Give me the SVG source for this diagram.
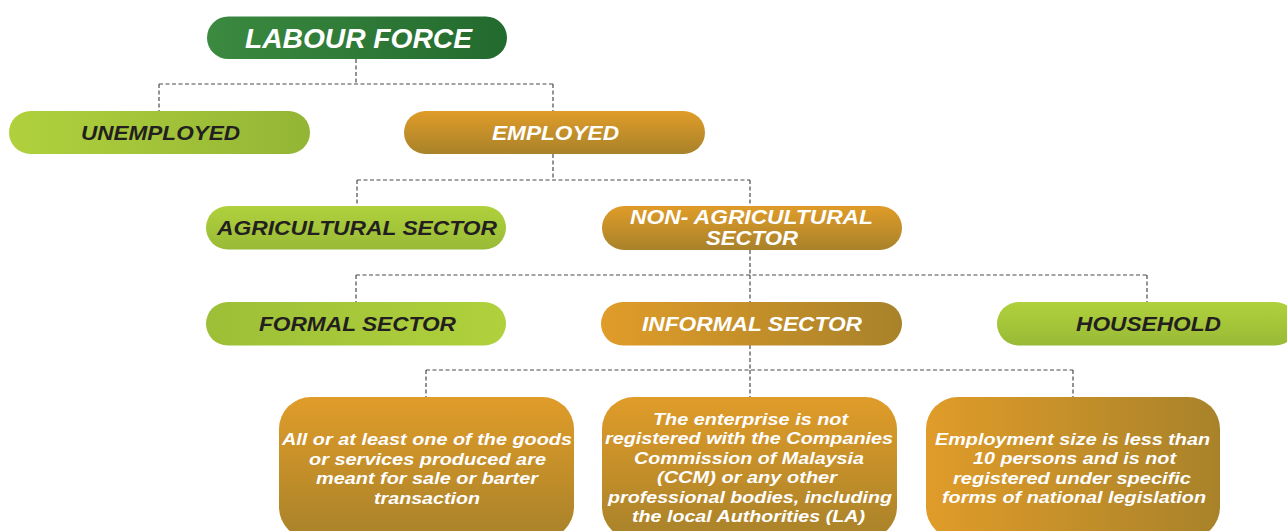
<svg xmlns="http://www.w3.org/2000/svg" width="1287" height="531" viewBox="0 0 1287 531">
<defs>
<linearGradient id="gDark" x1="0" y1="0" x2="1" y2="0"><stop offset="0" stop-color="#3b8a40"/><stop offset="1" stop-color="#226a2e"/></linearGradient>
<linearGradient id="gLimeH" x1="0" y1="0" x2="1" y2="0"><stop offset="0" stop-color="#b0d13c"/><stop offset="1" stop-color="#93b535"/></linearGradient>
<linearGradient id="gLimeHR" x1="0" y1="0" x2="1" y2="0"><stop offset="0" stop-color="#9dbf37"/><stop offset="1" stop-color="#b0d13c"/></linearGradient>
<linearGradient id="gLimeV" x1="0" y1="0" x2="0" y2="1"><stop offset="0" stop-color="#b0d13c"/><stop offset="1" stop-color="#98ba36"/></linearGradient>
<linearGradient id="gOrV" x1="0" y1="0" x2="0" y2="1"><stop offset="0" stop-color="#e09c29"/><stop offset="1" stop-color="#a8822a"/></linearGradient>
<linearGradient id="gOrH" x1="0" y1="0" x2="1" y2="0"><stop offset="0" stop-color="#e09c29"/><stop offset="1" stop-color="#a8822a"/></linearGradient>
</defs>
<style>
text{font-family:"Liberation Sans",Arial,sans-serif;font-weight:bold;font-style:italic;text-anchor:middle}
.w{fill:#ffffff}
.d{fill:#231f20}
.n{font-size:20.5px}
.t{font-size:28px}
.b{font-size:17.2px}
.c{fill:none;stroke:#4a4a4a;stroke-width:1.2;stroke-dasharray:4 2.5}
</style>
<g id="connectors">
<path class="c" d="M356 59V84M159 84H553M159 84V111M553 84V111"/>
<path class="c" d="M553 154V180M357 180H750M357 180V206M750 180V206"/>
<path class="c" d="M750 250V275M356 275H1147M356 275V302M750 275V302M1147 275V302"/>
<path class="c" d="M750 345V370M426 370H1073M426 370V397M750 370V397M1073 370V397"/>
</g>
<g id="labour-force"><rect x="207" y="16.5" width="300" height="42.5" rx="21.25" fill="url(#gDark)"/><text class="w t" x="358.5" y="47.5" textLength="227" lengthAdjust="spacingAndGlyphs">LABOUR FORCE</text></g>
<g id="unemployed"><rect x="9" y="111" width="301" height="43" rx="21.5" fill="url(#gLimeH)"/><text class="d n" x="160.5" y="139.5" textLength="159" lengthAdjust="spacingAndGlyphs">UNEMPLOYED</text></g>
<g id="employed"><rect x="404" y="111" width="301" height="43" rx="21.5" fill="url(#gOrV)"/><text class="w n" x="555.5" y="139.5" textLength="127" lengthAdjust="spacingAndGlyphs">EMPLOYED</text></g>
<g id="agricultural"><rect x="206" y="206" width="300" height="43.5" rx="21.75" fill="url(#gLimeV)"/><text class="d n" x="357" y="234.5" textLength="280" lengthAdjust="spacingAndGlyphs">AGRICULTURAL SECTOR</text></g>
<g id="non-agricultural"><rect x="602" y="206" width="300" height="44" rx="22" fill="url(#gOrV)"/><text class="w n" x="751.5" y="224" textLength="243" lengthAdjust="spacingAndGlyphs">NON- AGRICULTURAL</text><text class="w n" x="752" y="244.5" textLength="92" lengthAdjust="spacingAndGlyphs">SECTOR</text></g>
<g id="formal"><rect x="206" y="302" width="300" height="43.5" rx="21.75" fill="url(#gLimeHR)"/><text class="d n" x="357.5" y="330.5" textLength="197" lengthAdjust="spacingAndGlyphs">FORMAL SECTOR</text></g>
<g id="informal"><rect x="601" y="302" width="301" height="43.5" rx="21.75" fill="url(#gOrH)"/><text class="w n" x="752" y="330.5" textLength="220" lengthAdjust="spacingAndGlyphs">INFORMAL SECTOR</text></g>
<g id="household"><rect x="997" y="302" width="300" height="43.5" rx="21.75" fill="url(#gLimeV)"/><text class="d n" x="1148.5" y="330.5" textLength="145" lengthAdjust="spacingAndGlyphs">HOUSEHOLD</text></g>
<g id="criterion-1"><rect x="279" y="397" width="295" height="142" rx="32" fill="url(#gOrV)"/>
<text class="w b" x="427" y="445" textLength="290" lengthAdjust="spacingAndGlyphs">All or at least one of the goods</text>
<text class="w b" x="427.5" y="464.5" textLength="237" lengthAdjust="spacingAndGlyphs">or services produced are</text>
<text class="w b" x="427" y="484" textLength="222" lengthAdjust="spacingAndGlyphs">meant for sale or barter</text>
<text class="w b" x="427" y="503.5" textLength="106" lengthAdjust="spacingAndGlyphs">transaction</text></g>
<g id="criterion-2"><rect x="602" y="397" width="295" height="142" rx="32" fill="url(#gOrV)"/>
<text class="w b" x="750.5" y="424.5" textLength="195" lengthAdjust="spacingAndGlyphs">The enterprise is not</text>
<text class="w b" x="749" y="444" textLength="288" lengthAdjust="spacingAndGlyphs">registered with the Companies</text>
<text class="w b" x="749" y="463.5" textLength="230" lengthAdjust="spacingAndGlyphs">Commission of Malaysia</text>
<text class="w b" x="747" y="483" textLength="180" lengthAdjust="spacingAndGlyphs">(CCM) or any other</text>
<text class="w b" x="750" y="502.5" textLength="284" lengthAdjust="spacingAndGlyphs">professional bodies, including</text>
<text class="w b" x="748.5" y="522" textLength="233" lengthAdjust="spacingAndGlyphs">the local Authorities (LA)</text></g>
<g id="criterion-3"><rect x="926" y="397" width="294" height="142" rx="32" fill="url(#gOrH)"/>
<text class="w b" x="1072.5" y="444.5" textLength="275" lengthAdjust="spacingAndGlyphs">Employment size is less than</text>
<text class="w b" x="1074.5" y="464" textLength="203" lengthAdjust="spacingAndGlyphs">10 persons and is not</text>
<text class="w b" x="1072" y="483.5" textLength="238" lengthAdjust="spacingAndGlyphs">registered under specific</text>
<text class="w b" x="1074" y="503" textLength="264" lengthAdjust="spacingAndGlyphs">forms of national legislation</text></g>
</svg>
